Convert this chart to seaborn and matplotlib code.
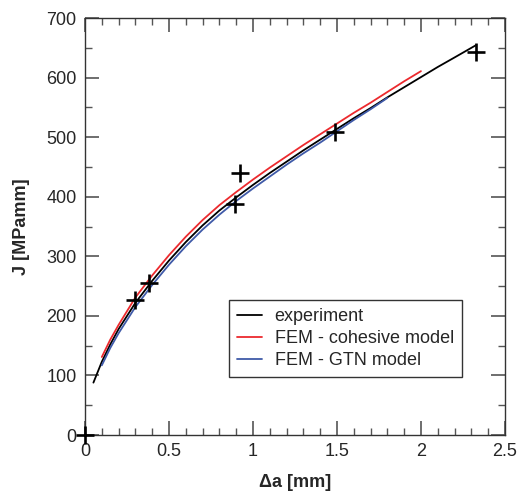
import numpy as np
import pandas as pd
import matplotlib.pyplot as plt
import seaborn as sns
from matplotlib.ticker import MultipleLocator

# Curves
expX = [0.05, 0.1, 0.15, 0.2, 0.3, 0.4, 0.5, 0.6, 0.7, 0.8, 0.9, 1.0, 1.1, 1.2,
        1.3, 1.4, 1.5, 1.6, 1.7, 1.8, 1.9, 2.0, 2.1, 2.2, 2.33]
expJ = [88, 123, 152, 178, 222, 259, 293, 324, 352, 377, 399, 420, 440, 459,
        478, 496, 514, 532, 549, 567, 584, 601, 618, 634, 655]

cohX = [0.1, 0.15, 0.2, 0.3, 0.4, 0.5, 0.6, 0.7, 0.8, 0.9, 1.0, 1.1, 1.2,
        1.3, 1.4, 1.5, 1.6, 1.7, 1.8, 1.9, 2.0]
cohJ = [131, 160, 185, 231, 268, 302, 333, 361, 386, 408, 429, 449, 468,
        487, 505, 523, 541, 558, 576, 594, 611]

gtnX = [0.1, 0.15, 0.2, 0.3, 0.4, 0.5, 0.6, 0.7, 0.8, 0.9, 1.0, 1.1, 1.2,
        1.3, 1.4, 1.5, 1.6, 1.7, 1.8]
gtnJ = [117, 146, 171, 215, 252, 286, 317, 345, 370, 393, 414, 434, 454,
        473, 491, 510, 529, 547, 566]

# Measured points (crosses)
ptX = [0.0, 0.3, 0.38, 0.89, 0.92, 1.49, 2.33]
ptJ = [0, 227, 255, 388, 440, 509, 643]

sns.set_style("ticks")
plt.rcParams["font.family"] = ["Liberation Sans", "DejaVu Sans"]

fig = plt.figure(figsize=(5.2, 4.91), dpi=100)
ax = fig.add_axes([0.1635, 0.114, 0.8075, 0.849])

sns.lineplot(x=expX, y=expJ, color="black", lw=1.3, sort=False, ax=ax, label="experiment")
sns.lineplot(x=cohX, y=cohJ, color="#ec2a2e", lw=1.3, sort=False, ax=ax, label="FEM - cohesive model")
sns.lineplot(x=gtnX, y=gtnJ, color="#3f5aa8", lw=1.3, sort=False, ax=ax, label="FEM - GTN model")
ax.plot(ptX, ptJ, ls="none", marker="+", ms=13, mew=1.9, color="black", clip_on=False, zorder=5)

ax.set_xlim(0, 2.5)
ax.set_ylim(0, 700)
ax.set_xticks([0, 0.5, 1, 1.5, 2, 2.5])
ax.set_xticklabels(["0", "0.5", "1", "1.5", "2", "2.5"])
ax.xaxis.set_minor_locator(MultipleLocator(0.1))
ax.yaxis.set_major_locator(MultipleLocator(100))
ax.yaxis.set_minor_locator(MultipleLocator(50))

ax.tick_params(which="both", direction="in", top=True, right=True, color="#555555", labelsize=13)
ax.tick_params(which="major", length=10, width=1.2, pad=6)
ax.tick_params(which="minor", length=5, width=1.0)
for s in ax.spines.values():
    s.set_linewidth(1.0)
    s.set_color("#333333")

ax.set_xlabel("\u0394a [mm]", fontsize=13, fontweight="bold", labelpad=10)
ax.set_ylabel("J [MPamm]", fontsize=13, fontweight="bold", labelpad=12)

leg = ax.legend(loc="lower right", bbox_to_anchor=(0.898, 0.139), borderaxespad=0,
                fontsize=13, frameon=True, fancybox=False, handlelength=1.4,
                handletextpad=0.7, borderpad=0.45, labelspacing=0.28)
leg.get_frame().set_edgecolor("black")
leg.get_frame().set_linewidth(1.0)

fig.savefig("out.png", dpi=100)
